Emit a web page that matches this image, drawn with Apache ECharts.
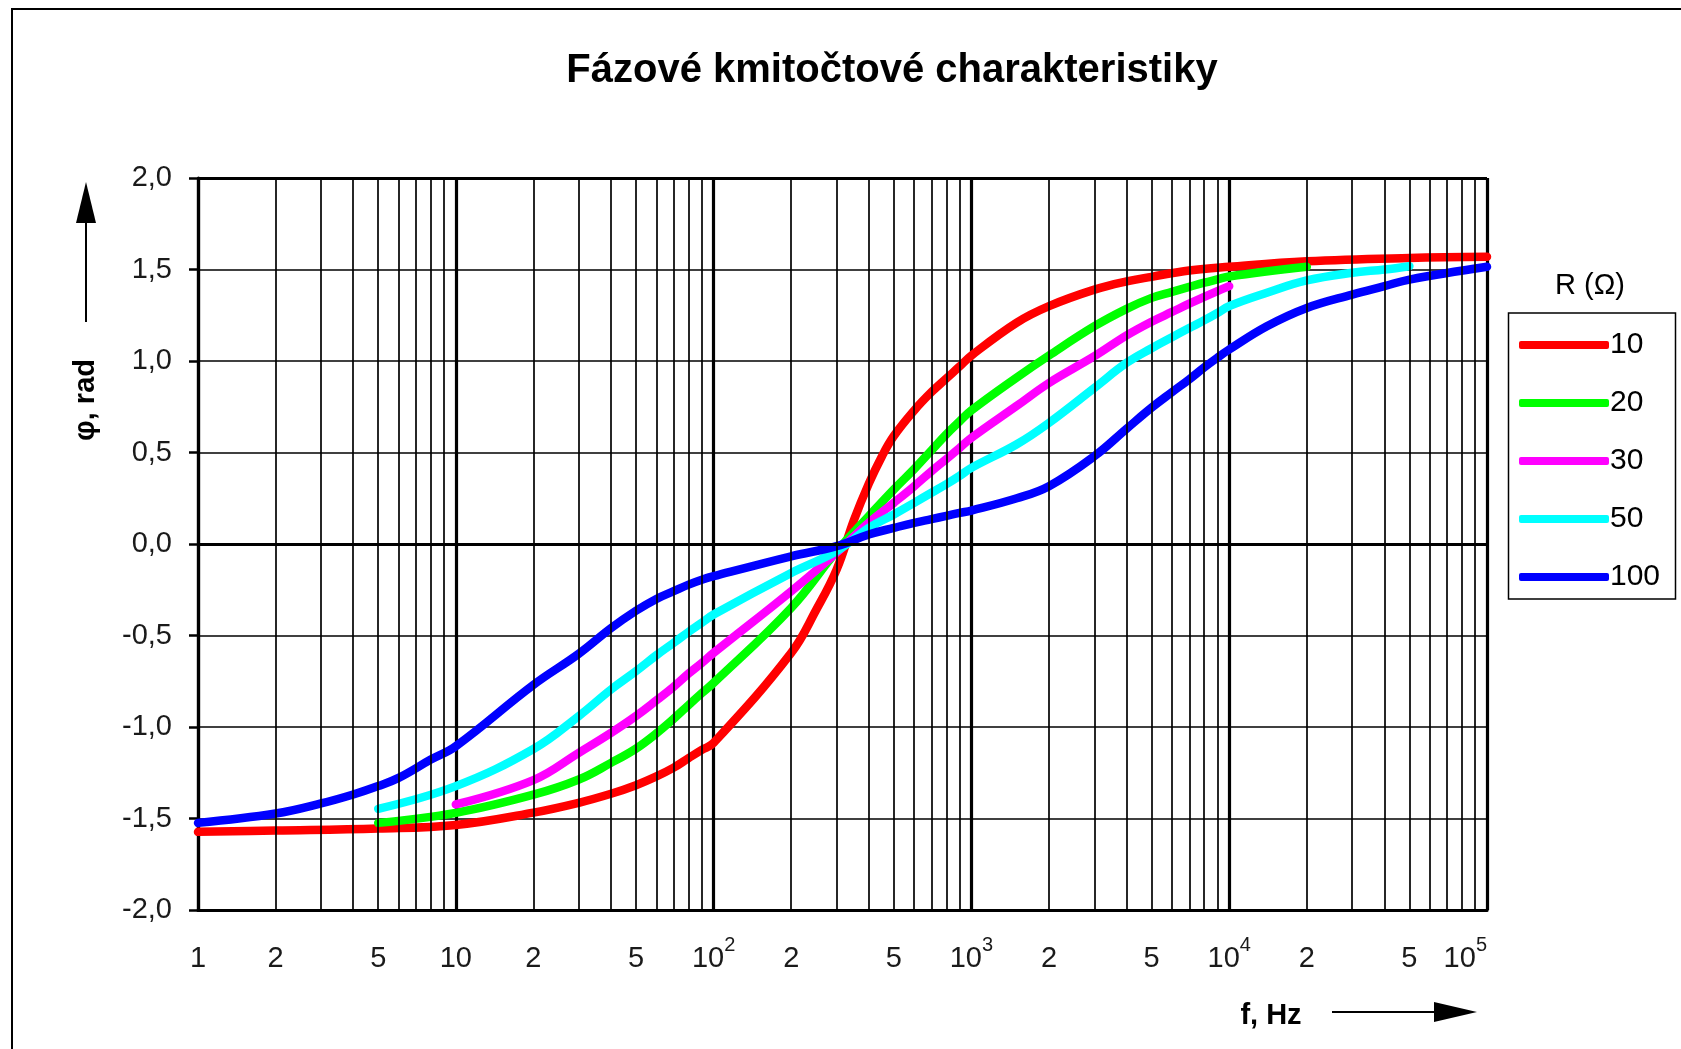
<!DOCTYPE html>
<html>
<head>
<meta charset="utf-8">
<script src="https://cdn.jsdelivr.net/npm/echarts@6.0.0/dist/echarts.min.js"></script>
<style>
html,body{margin:0;padding:0;background:#fff;}
#chart{width:1681px;height:1049px;}
</style>
</head>
<body>
<div id="chart"></div>
<script>
// ---------- texts ----------
const titleText = 'Fázové kmitočtové charakteristiky';
const yAxisTitle = 'φ, rad';
const xAxisTitle = 'f, Hz';
const legendTitle = 'R (Ω)';
const seriesNames = ['10', '20', '30', '50', '100'];
const seriesColors = ['#ff0000', '#00ff00', '#ff00ff', '#00ffff', '#0000ff'];

// ---------- axis ticks ----------
const xLabelValues = [1, 2, 5, 10, 20, 50, 100, 200, 500, 1000, 2000, 5000, 10000, 20000, 50000, 100000];
const xMinorMantissas = [2, 3, 4, 5, 6, 7, 8, 9];
const xDecades = [1, 10, 100, 1000, 10000];
const yMin = -2, yMax = 2, yStep = 0.5;

// ---------- data ----------
const fR10 = [1, 2, 5, 10, 20, 30, 40, 50, 60, 70, 80, 90, 100, 200, 250, 300, 350, 400, 450, 500, 600, 700, 800, 900, 1000, 1500, 2000, 3000, 4000, 5000, 7000, 10000, 20000, 50000, 100000];
const phiR10 = [-1.573, -1.566, -1.555, -1.535, -1.468, -1.414, -1.365, -1.318, -1.27, -1.222, -1.17, -1.125, -1.087, -0.595, -0.36, -0.14, 0.13, 0.33, 0.48, 0.59, 0.73, 0.83, 0.905, 0.97, 1.03, 1.21, 1.30, 1.39, 1.435, 1.46, 1.495, 1.515, 1.545, 1.563, 1.569];

const fR20 = [5, 10, 20, 30, 40, 50, 60, 70, 80, 90, 100, 200, 300, 400, 500, 600, 700, 800, 900, 1000, 1500, 2000, 3000, 4000, 5000, 6000, 7000, 8000, 9000, 10000, 20000];
const phiR20 = [-1.524, -1.469, -1.37, -1.287, -1.196, -1.118, -1.035, -0.955, -0.88, -0.815, -0.759, -0.349, -0.04, 0.152, 0.298, 0.41, 0.512, 0.6, 0.67, 0.73, 0.91, 1.03, 1.19, 1.285, 1.345, 1.378, 1.405, 1.428, 1.446, 1.462, 1.515];

const fR30 = [10, 20, 30, 40, 50, 60, 70, 80, 90, 100, 200, 300, 400, 500, 600, 700, 800, 900, 1000, 1500, 2000, 3000, 4000, 5000, 6000, 7000, 8000, 9000, 10000];
const phiR30 = [-1.423, -1.29, -1.141, -1.032, -0.94, -0.855, -0.78, -0.708, -0.65, -0.595, -0.258, -0.047, 0.116, 0.225, 0.316, 0.398, 0.465, 0.525, 0.58, 0.755, 0.88, 1.026, 1.14, 1.215, 1.268, 1.313, 1.35, 1.382, 1.409];

const fR50 = [5, 10, 20, 30, 40, 50, 60, 70, 80, 90, 100, 200, 300, 400, 500, 600, 700, 800, 900, 1000, 1500, 2000, 3000, 4000, 5000, 6000, 7000, 8000, 9000, 10000, 14000, 20000, 30000, 40000, 50000];
const phiR50 = [-1.447, -1.323, -1.12, -0.94, -0.795, -0.695, -0.608, -0.54, -0.48, -0.43, -0.385, -0.158, -0.039, 0.088, 0.161, 0.225, 0.28, 0.327, 0.372, 0.416, 0.545, 0.662, 0.853, 0.99, 1.07, 1.13, 1.18, 1.222, 1.262, 1.30, 1.373, 1.44, 1.482, 1.5, 1.518];

const fR100 = [1, 2, 3, 4, 5, 6, 8, 10, 20, 30, 40, 50, 60, 70, 80, 90, 100, 200, 300, 400, 500, 600, 700, 800, 900, 1000, 1500, 2000, 3000, 4000, 5000, 6000, 7000, 8000, 9000, 10000, 14000, 20000, 30000, 40000, 50000, 100000];
const phiR100 = [-1.524, -1.473, -1.418, -1.369, -1.323, -1.278, -1.178, -1.105, -0.77, -0.6, -0.46, -0.365, -0.3, -0.258, -0.222, -0.195, -0.176, -0.067, -0.012, 0.052, 0.088, 0.116, 0.136, 0.154, 0.17, 0.183, 0.25, 0.316, 0.48, 0.63, 0.745, 0.83, 0.9, 0.965, 1.018, 1.063, 1.19, 1.29, 1.363, 1.409, 1.445, 1.515];

const seriesFreq = [fR10, fR20, fR30, fR50, fR100];
const seriesPhi = [phiR10, phiR20, phiR30, phiR50, phiR100];

// ---------- build ----------
const FONT = "'Liberation Sans', Arial, sans-serif";
const zip = (xs, ys) => xs.map((x, i) => [x, ys[i]]);

const minorLines = [];
xDecades.forEach(d => xMinorMantissas.forEach(m => minorLines.push({ xAxis: m * d })));

function xLabel(v) {
  const e = Math.round(Math.log10(v));
  if (Math.abs(v - Math.pow(10, e)) < 1e-6 * v) {
    if (e === 0) return '{b|1}';
    if (e === 1) return '{b|10}';
    return '{b|10}{s|' + e + '}';
  }
  const lead = Math.round(v / Math.pow(10, Math.floor(Math.log10(v) + 1e-9)));
  return '{b|' + lead + '}';
}

const series = [{
  name: '__grid',
  type: 'line',
  data: [],
  z: 1,
  silent: true,
  symbol: 'none',
  markLine: {
    silent: true,
    animation: false,
    symbol: ['none', 'none'],
    label: { show: false },
    lineStyle: { color: '#000', width: 1.7, type: 'solid' },
    emphasis: { disabled: true },
    data: minorLines.concat([
      { yAxis: 0, lineStyle: { color: '#000', width: 3.2, type: 'solid' } },
      { yAxis: yMax, lineStyle: { color: '#000', width: 3.2, type: 'solid' } }
    ])
  }
}];

seriesNames.forEach((n, i) => {
  series.push({
    name: n,
    type: 'line',
    z: 3,
    data: zip(seriesFreq[i], seriesPhi[i]),
    showSymbol: false,
    symbol: 'none',
    smooth: 0.4,
    color: seriesColors[i],
    lineStyle: { width: 8.5, color: seriesColors[i], cap: 'round', join: 'round' },
    emphasis: { disabled: true }
  });
});

const chart = echarts.init(document.getElementById('chart'), null, { renderer: 'canvas' });
chart.setOption({
  animation: false,
  backgroundColor: '#fff',
  title: {
    text: titleText,
    left: 892,
    top: 51,
    textAlign: 'center',
    padding: 0,
    textStyle: { fontFamily: FONT, fontWeight: 'bold', fontSize: 40, color: '#000' }
  },
  grid: { left: 198, top: 178, width: 1289, height: 732, containLabel: false },
  xAxis: {
    type: 'log',
    logBase: 10,
    min: 1,
    max: 100000,
    axisLine: { show: true, onZero: false, lineStyle: { color: '#000', width: 3.2 } },
    axisTick: { show: false },
    splitLine: { show: true, lineStyle: { color: '#000', width: 3.2 } },
    axisLabel: {
      show: true,
      customValues: xLabelValues,
      margin: 25,
      color: '#1a1a1a',
      fontFamily: FONT,
      fontSize: 29,
      alignMaxLabel: 'right',
      formatter: xLabel,
      rich: {
        b: { fontFamily: FONT, fontSize: 29, color: '#1a1a1a', padding: [9, 0, 0, 0], verticalAlign: 'bottom' },
        s: { fontFamily: FONT, fontSize: 20, color: '#1a1a1a', verticalAlign: 'top' }
      }
    }
  },
  yAxis: {
    type: 'value',
    min: yMin,
    max: yMax,
    interval: yStep,
    axisLine: { show: true, onZero: false, lineStyle: { color: '#000', width: 3.2 } },
    axisTick: { show: true, length: 9, lineStyle: { color: '#000', width: 2.5 } },
    splitLine: { show: true, lineStyle: { color: '#000', width: 1.7 } },
    axisLabel: {
      margin: 26,
      color: '#1a1a1a',
      fontFamily: FONT,
      fontSize: 29,
      formatter: v => v.toFixed(1).replace('.', ',')
    }
  },
  legend: {
    data: seriesNames,
    orient: 'vertical',
    left: 1508,
    top: 313,
    padding: [17, 10, 7, 11],
    itemGap: 28,
    itemWidth: 90,
    itemHeight: 8,
    icon: 'roundRect',
    selectedMode: false,
    borderWidth: 0,
    textStyle: { fontFamily: FONT, fontSize: 30, color: '#000', lineHeight: 30, padding: [0, 0, 0, -4] }
  },
  graphic: [
    { type: 'rect', silent: true, shape: { x: 12, y: 9, width: 2000, height: 2000 }, style: { fill: 'none', stroke: '#000', lineWidth: 2 } },
    { type: 'rect', silent: true, shape: { x: 1508.5, y: 313, width: 167, height: 286 }, style: { fill: 'none', stroke: '#000', lineWidth: 1.5 } },
    { type: 'text', silent: true, x: 1590, y: 286, style: { text: legendTitle, fontFamily: FONT, fontSize: 29, fill: '#000', align: 'center', verticalAlign: 'middle' } },
    { type: 'text', silent: true, x: 86, y: 400, rotation: Math.PI / 2, style: { text: yAxisTitle, fontFamily: FONT, fontSize: 29, fontWeight: 'bold', fill: '#000', align: 'center', verticalAlign: 'middle' } },
    { type: 'line', silent: true, shape: { x1: 86, y1: 322, x2: 86, y2: 215 }, style: { stroke: '#000', lineWidth: 2 } },
    { type: 'polygon', silent: true, shape: { points: [[86, 182], [76, 223], [96, 223]] }, style: { fill: '#000' } },
    { type: 'text', silent: true, x: 1271, y: 1016, style: { text: xAxisTitle, fontFamily: FONT, fontSize: 29, fontWeight: 'bold', fill: '#000', align: 'center', verticalAlign: 'middle' } },
    { type: 'line', silent: true, shape: { x1: 1332, y1: 1012, x2: 1440, y2: 1012 }, style: { stroke: '#000', lineWidth: 2 } },
    { type: 'polygon', silent: true, shape: { points: [[1477, 1012], [1434, 1002], [1434, 1022]] }, style: { fill: '#000' } }
  ],
  series: series
});
</script>
</body>
</html>
